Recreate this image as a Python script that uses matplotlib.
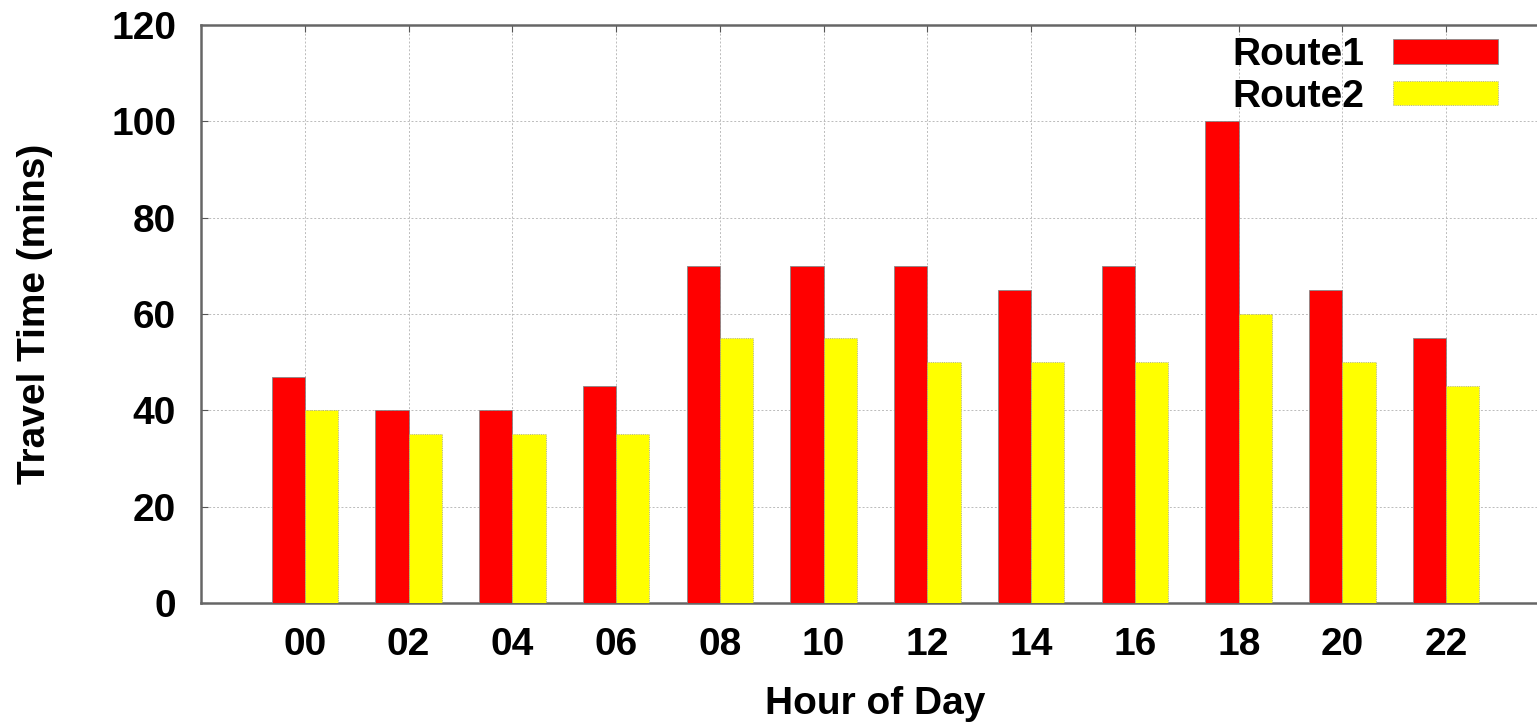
import matplotlib.pyplot as plt
import numpy as np

plt.rcParams['font.family'] = ['Liberation Sans', 'DejaVu Sans']
plt.rcParams['font.weight'] = 'bold'

hours = ['00', '02', '04', '06', '08', '10', '12', '14', '16', '18', '20', '22']
route1 = [47, 40, 40, 45, 70, 70, 70, 65, 70, 100, 65, 55]
route2 = [40, 35, 35, 35, 55, 55, 50, 50, 50, 60, 50, 45]

W, H = 1537, 723
fig = plt.figure(figsize=(W / 100, H / 100), dpi=100)
# right edge of the plot box runs past the figure border
ax = fig.add_axes([201 / W, 1 - 603 / H, (1550 - 201) / W, (603 - 25) / H])

x = np.arange(len(hours))
w = 0.32
ax.bar(x - w / 2, route1, w, color='#ff0000', edgecolor='#888888', linewidth=0.6, label='Route1', zorder=3)
ax.bar(x + w / 2, route2, w, color='#ffff00', edgecolor='#999999', linewidth=0.6, linestyle=':', label='Route2', zorder=3)

ax.set_xlim(-1, 12)
ax.set_ylim(0, 120)
ax.set_xticks(x)
ax.set_xticklabels(hours)
ax.set_yticks(np.arange(0, 121, 20))

ax.grid(True, linestyle=(0, (2, 2)), color='#bbbbbb', linewidth=0.7, zorder=0)
for s in ax.spines.values():
    s.set_color('#666666')
    s.set_linewidth(1.8)

fs = 28
ax.tick_params(axis='both', labelsize=fs, direction='in', length=5, color='#555555')
ax.tick_params(axis='x', pad=17, top=True)
ax.tick_params(axis='y', pad=18)

ax.set_xlabel('Hour of Day', fontsize=fs, fontweight='bold')
ax.xaxis.set_label_coords(0.5, -(704 - 603) / (603 - 25), transform=ax.transAxes)
ax.xaxis.label.set_va('center')
ax.set_ylabel('Travel Time (mins)', fontsize=fs, fontweight='bold')
ax.yaxis.set_label_coords(-(201 - 35) / (1550 - 201), 0.5)
ax.yaxis.label.set_va('center')

leg = ax.legend(loc='upper right', bbox_to_anchor=((1502 - 201) / (1550 - 201), 0.986),
                markerfirst=False, frameon=False, fontsize=fs,
                handlelength=2.7, handleheight=0.6, labelspacing=0.15,
                handletextpad=0.75, borderaxespad=0, borderpad=0.1)
for t in leg.get_texts():
    t.set_fontweight('bold')

fig.savefig('out.png', dpi=100)
